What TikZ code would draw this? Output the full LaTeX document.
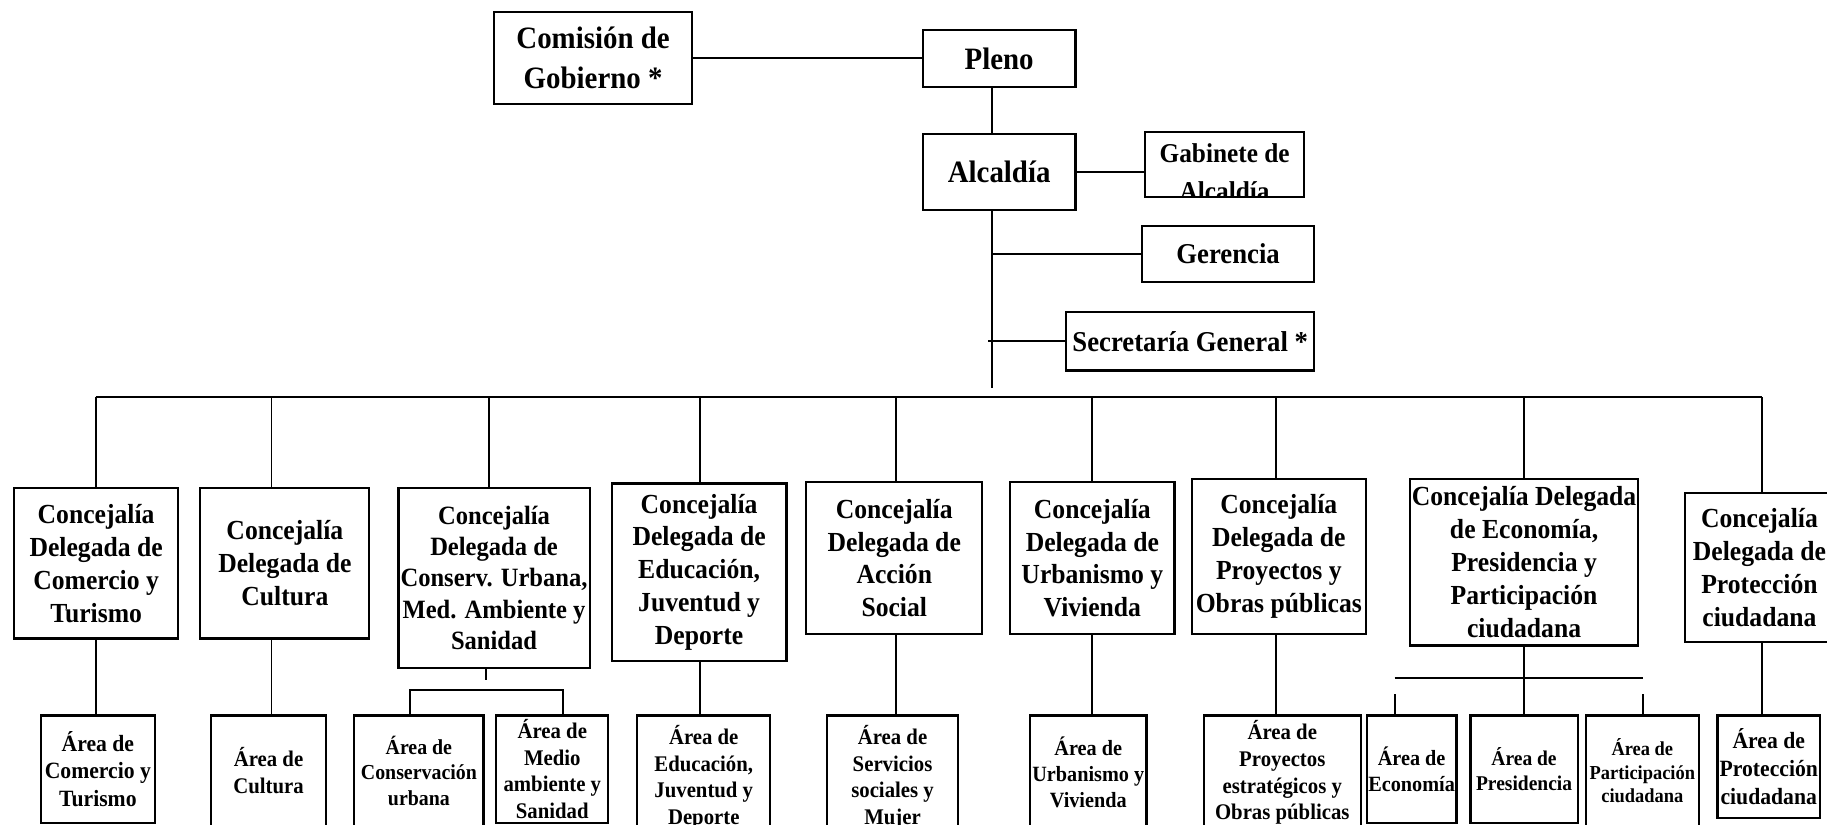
\documentclass[tikz,border=0pt]{standalone}
\usepackage{fontspec}
\setmainfont{Liberation Serif}[FakeStretch=0.93]
\begin{document}
\begin{tikzpicture}[x=0.6pt,y=-0.6pt,
  box/.style={draw,line width=1.1pt,align=center,inner sep=0pt},
  wh/.style 2 args={minimum width=#1*0.6pt,minimum height=#2*0.6pt},
  sz/.code={\pgfmathsetmacro\lead{1.19*#1}\tikzset{font=\fontsize{#1}{\lead}\selectfont\bfseries}},
  topbox/.style={box,font=\fontsize{16}{20.4}\selectfont\bfseries},
  midbox/.style={box,font=\fontsize{14.8}{18}\selectfont\bfseries},
  con/.style={line width=1pt}]
   \useasboundingbox (0,0) rectangle (1568,708);
   \clip (0,0) rectangle (1568,708);
   \node[topbox,wh={170}{79}] (com) at (509,49.5) {Comisión de\\Gobierno *};
   \node[topbox,wh={131}{49}] (pleno) at (857.5,50.5) {Pleno};
   \node[topbox,wh={131}{65}] (alc) at (857.5,147.5) {Alcaldía};
   \node[box,wh={136}{56}] (gab) at (1051,141) {};
   \begin{scope}
      \clip (gab.south west) rectangle (gab.north east);
      \node[align=center,font=\fontsize{14}{19.8}\selectfont\bfseries] (gabtxt) at (1051,148) {Gabinete de\\Alcaldía};
   \end{scope}
   \node[midbox,wh={148}{48}] (ger) at (1054,218) {Gerencia};
   \node[midbox,wh={213}{50}] (sec) at (1021.5,293) {Secretaría General *};
   \coordinate (sp) at (851,0);
   \coordinate (spend) at (851,333);
   \draw[con] (com.east) -- (com.east -| pleno.west);
   \draw[con] (pleno.south -| sp) -- (alc.north -| sp);
   \draw[con] (alc.east) -- (gab.west |- alc.east);
   \draw[con] (alc.south -| sp) -- (spend);
   \draw[con] (sp |- ger.west) -- (ger.west);
   \draw[con] ([xshift=-1.8pt]sp |- sec.west) -- (sec.west);
   \foreach \n/\x/\y/\w/\h/\s/\t in {
      1/82.5/483.5/141/129/14.2/{Concejalía\\Delegada de\\Comercio y\\Turismo},
      2/244.5/483.5/145/129/14.2/{Concejalía\\Delegada de\\Cultura},
      3/424/496/164/154/13.6/{Concejalía\\Delegada de\\Conserv. Urbana,\\Med. Ambiente y\\Sanidad},
      4/600/491/150/152/14.2/{Concejalía\\Delegada de\\Educación,\\Juventud y\\Deporte},
      5/767.5/479/151/130/14.2/{Concejalía\\Delegada de\\Acción\\Social},
      6/937.5/479/141/130/14.2/{Concejalía\\Delegada de\\Urbanismo y\\Vivienda},
      7/1097.5/477.5/149/133/14.2/{Concejalía\\Delegada de\\Proyectos y\\Obras públicas},
      8/1308/482.5/196/143/14.2/{Concejalía Delegada\\de Economía,\\Presidencia y\\Participación\\ciudadana},
      9/1510/487/128/128/14.2/{Concejalía\\Delegada de\\Protección\\ciudadana}}
      \node[box,sz=\s,wh={\w}{\h}] (m\n) at (\x,\y) {\t};
   \foreach \n/\x in {1/82,2/233,3/420,4/601,5/769,6/937,7/1095,8/1308,9/1512}
      \coordinate (d\n) at (\x,341);
   \draw[con] (d1) -- (d9);
   \foreach \n in {1,...,9}
      \draw[con] (d\n) -- (d\n |- m\n.north);
   \foreach \n/\x/\y/\w/\h/\s/\t in {
      1/84/660/98/92/12/{Área de\\Comercio y\\Turismo},
      2/230.5/661.5/99/95/11.5/{Área de\\Cultura},
      3/359.5/661.5/111/95/11/{Área de\\Conservación\\urbana},
      4/474/660/96/92/11.5/{Área de\\Medio\\ambiente y\\Sanidad},
      5/604/667/114/106/11.5/{Área de\\Educación,\\Juventud y\\Deporte},
      6/766/667/112/106/11.5/{Área de\\Servicios\\sociales y\\Mujer},
      7/934/663/100/98/11.2/{Área de\\Urbanismo y\\Vivienda},
      8/1100.5/663/135/98/11.5/{Área de\\Proyectos\\estratégicos y\\Obras públicas},
      9/1211.5/660/77/92/11.2/{Área de\\Economía},
      10/1308/660/92/92/10.8/{Área de\\Presidencia},
      11/1409.5/661.5/97/95/10.2/{Área de\\Participación\\ciudadana},
      12/1518/658/88/88/12/{Área de\\Protección\\ciudadana}}
      \node[box,sz=\s,wh={\w}{\h}] (a\n) at (\x,\y) {\t};
   \foreach \m/\a in {1/1,2/2,4/5,5/6,6/7,7/8,9/12}
      \draw[con] (d\m |- m\m.south) -- (d\m |- a\a.north);
   \coordinate (t3) at (417,584);
   \coordinate (k3) at (352,592);
   \coordinate (k4) at (483,592);
   \draw[con] (m3.south -| t3) -- (t3);
   \draw[con] (k3 |- a3.north) -- (k3) -- (k4) -- (k4 |- a4.north);
   \coordinate (k9) at (1197,582);
   \coordinate (k11) at (1410,582);
   \coordinate (t9) at (1197,596);
   \coordinate (t11) at (1410,596);
   \draw[con] (k9) -- (k11);
   \draw[con] (d8 |- m8.south) -- (d8 |- a10.north);
   \draw[con] (t9) -- (t9 |- a9.north);
   \draw[con] (t11) -- (t11 |- a11.north);
\end{tikzpicture}
\end{document}
